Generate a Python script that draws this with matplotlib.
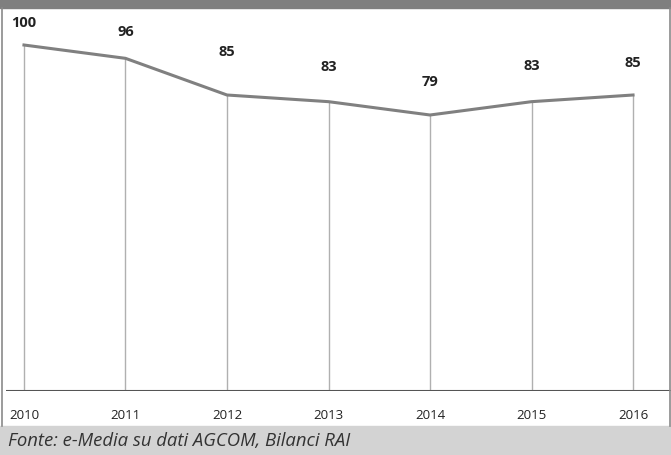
import numpy as np
import matplotlib.pyplot as plt
from matplotlib.patches import Rectangle

# --- dati ---
anni = [2010, 2011, 2012, 2013, 2014, 2015, 2016]
indice = [100, 96, 85, 83, 79, 83, 85]
etichette = ["100", "96", "85", "83", "79", "83", "85"]
fonte = "Fonte: e-Media su dati AGCOM, Bilanci RAI"

# spostamento verticale delle etichette (punti tipografici)
label_dy = [16.5, 20, 31.5, 25.5, 24.5, 26.5, 23.5]

W, H = 671, 456
fig = plt.figure(figsize=(W / 100, H / 100), dpi=100)

def px(x, y, w, h):
    # rettangolo in pixel (origine in alto a sinistra) -> coordinate figura
    return [x / W, 1 - (y + h) / H, w / W, h / H]

# fasce grigie in alto e in basso
fig.patches.append(Rectangle((0, 1 - 9 / H), 1, 9 / H, transform=fig.transFigure,
                             color="#7f7f7f", zorder=0))
fig.patches.append(Rectangle((0, 0), 1, 29 / H, transform=fig.transFigure,
                             color="#d3d3d3", zorder=0))
# bordi laterali
for xb in (1.5, 669.5):
    fig.add_artist(plt.Line2D([xb / W, xb / W], [29 / H, 1 - 9 / H],
                              transform=fig.transFigure, color="#8a8a8a", lw=1.2))

ax = fig.add_axes(px(6, 9, 665, 383))
ax.set_xlim(2009.823, 2016.374)
ax.set_ylim(-3.8, 111.1)
ax.axis("off")

# linee di caduta verticali
ax.vlines(anni, ymin=-3.8, ymax=indice, colors="#b0b0b0", lw=1)
# linea di base
ax.axhline(-3.8, color="#555555", lw=1.5)
# serie
ax.plot(anni, indice, color="#808080", lw=2.2, solid_joinstyle="miter")

for a, v, t, dy in zip(anni, indice, etichette, label_dy):
    ax.annotate(t, (a, v), xytext=(0, dy), textcoords="offset points",
                ha="center", va="center", fontsize=10.5, fontweight="bold",
                family="Open Sans", color="#222222")

# anni sull'asse
for a in anni:
    ax.annotate(str(a), (a, -3.8), xytext=(0, -17), textcoords="offset points",
                ha="center", va="center", fontsize=9.5, family="Open Sans",
                color="#222222")

fig.text(8 / W, 1 - 441 / H, fonte, ha="left", va="center", fontsize=13.3,
         style="italic", family="Open Sans", color="#333333")

fig.savefig("out.png", dpi=100)
